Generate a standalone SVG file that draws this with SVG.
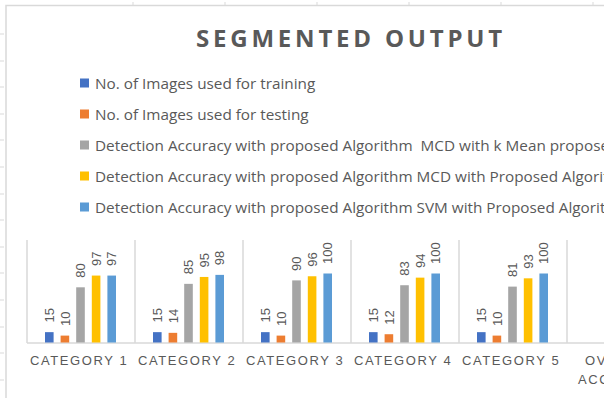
<svg xmlns="http://www.w3.org/2000/svg" width="604" height="398" viewBox="0 0 604 398">
<style>
.frame{stroke:#D9D9D9;stroke-width:1.5;fill:none}
.tick{stroke:#D9D9D9;stroke-width:1}
.grid{stroke:#D9D9D9;stroke-width:1.5}
.title{font-family:"Open Sans","Liberation Sans",sans-serif;font-weight:bold;font-size:24px;fill:#595959;letter-spacing:3.8px}
.leg{font-family:"Open Sans","Liberation Sans",sans-serif;font-size:15.3px;fill:#595959;white-space:pre}
.cat{font-family:"Liberation Sans",sans-serif;font-size:13px;fill:#595959;letter-spacing:1.6px}
.val{font-family:"Liberation Sans",sans-serif;font-size:13px;fill:#595959}
.s1{fill:#4472C4}.s2{fill:#ED7D31}.s3{fill:#A5A5A5}.s4{fill:#FFC000}.s5{fill:#5B9BD5}
</style>
<rect width="604" height="398" fill="#FFFFFF"/>
<g id="sheet-ticks">
<path class="tick" d="M0,34H4M0,61H4M0,87H4M0,114H4M0,140H4M0,167H4M0,194H4M0,220H4M0,247H4M0,273H4M0,300H4M0,327H4M0,353H4M0,380H4"/>
<path class="tick" d="M133,2V5M225,2V5M317,2V5M409,2V5M501,2V5M593,2V5"/>
</g>
<path id="chart-frame" class="frame" d="M6,398V5.5H604"/>
<text id="title" class="title" x="196" y="47">SEGMENTED OUTPUT</text>
<g id="legend">
<g id="leg1"><rect class="s1" x="80" y="78.5" width="9" height="9"/><text class="leg" x="95" y="88.5">No. of Images used for training</text></g>
<g id="leg2"><rect class="s2" x="80" y="109.5" width="9" height="9"/><text class="leg" x="95" y="119.5">No. of Images used for testing</text></g>
<g id="leg3"><rect class="s3" x="80" y="140.5" width="9" height="9"/><text class="leg" x="95" y="150.5" xml:space="preserve">Detection Accuracy with proposed Algorithm  MCD with k Mean propose</text></g>
<g id="leg4"><rect class="s4" x="80" y="171.5" width="9" height="9"/><text class="leg" x="95" y="181.5">Detection Accuracy with proposed Algorithm MCD with Proposed Algorit</text></g>
<g id="leg5"><rect class="s5" x="80" y="202.5" width="9" height="9"/><text class="leg" x="95" y="212.5">Detection Accuracy with proposed Algorithm SVM with Proposed Algorit</text></g>
</g>
<g id="axes">
<path class="grid" d="M27,343H604"/>
<path class="grid" d="M27,240V343M135,240V343M243,240V343M351,240V343M459,240V343M567,240V343"/>
</g>
<g id="cat1">
<rect class="s1" x="45" y="332.15" width="8.6" height="10.35"/>
<rect class="s2" x="60.6" y="335.6" width="8.6" height="6.9"/>
<rect class="s3" x="76.2" y="287.3" width="8.6" height="55.2"/>
<rect class="s4" x="91.8" y="275.57" width="8.6" height="66.93"/>
<rect class="s5" x="107.4" y="275.57" width="8.6" height="66.93"/>
<text class="val" transform="translate(54,322.6) rotate(-90)">15</text>
<text class="val" transform="translate(69.6,326.1) rotate(-90)">10</text>
<text class="val" transform="translate(85.2,277.8) rotate(-90)">80</text>
<text class="val" transform="translate(100.8,266) rotate(-90)">97</text>
<text class="val" transform="translate(116.4,266) rotate(-90)">97</text>
<text class="cat" x="30" y="365">CATEGORY 1</text>
</g>
<g id="cat2">
<rect class="s1" x="153" y="332.15" width="8.6" height="10.35"/>
<rect class="s2" x="168.6" y="332.84" width="8.6" height="9.66"/>
<rect class="s3" x="184.2" y="283.85" width="8.6" height="58.65"/>
<rect class="s4" x="199.8" y="276.95" width="8.6" height="65.55"/>
<rect class="s5" x="215.4" y="274.88" width="8.6" height="67.62"/>
<text class="val" transform="translate(162,322.6) rotate(-90)">15</text>
<text class="val" transform="translate(177.6,323.3) rotate(-90)">14</text>
<text class="val" transform="translate(193.2,274.3) rotate(-90)">85</text>
<text class="val" transform="translate(208.8,267.4) rotate(-90)">95</text>
<text class="val" transform="translate(224.4,265.3) rotate(-90)">98</text>
<text class="cat" x="138" y="365">CATEGORY 2</text>
</g>
<g id="cat3">
<rect class="s1" x="261" y="332.15" width="8.6" height="10.35"/>
<rect class="s2" x="276.6" y="335.6" width="8.6" height="6.9"/>
<rect class="s3" x="292.2" y="280.4" width="8.6" height="62.1"/>
<rect class="s4" x="307.8" y="276.26" width="8.6" height="66.24"/>
<rect class="s5" x="323.4" y="273.5" width="8.6" height="69"/>
<text class="val" transform="translate(270,322.6) rotate(-90)">15</text>
<text class="val" transform="translate(285.6,326.1) rotate(-90)">10</text>
<text class="val" transform="translate(301.2,270.9) rotate(-90)">90</text>
<text class="val" transform="translate(316.8,266.7) rotate(-90)">96</text>
<text class="val" transform="translate(332.4,264) rotate(-90)">100</text>
<text class="cat" x="246" y="365">CATEGORY 3</text>
</g>
<g id="cat4">
<rect class="s1" x="369" y="332.15" width="8.6" height="10.35"/>
<rect class="s2" x="384.6" y="334.22" width="8.6" height="8.28"/>
<rect class="s3" x="400.2" y="285.23" width="8.6" height="57.27"/>
<rect class="s4" x="415.8" y="277.64" width="8.6" height="64.86"/>
<rect class="s5" x="431.4" y="273.5" width="8.6" height="69"/>
<text class="val" transform="translate(378,322.6) rotate(-90)">15</text>
<text class="val" transform="translate(393.6,324.7) rotate(-90)">12</text>
<text class="val" transform="translate(409.2,275.7) rotate(-90)">83</text>
<text class="val" transform="translate(424.8,268.1) rotate(-90)">94</text>
<text class="val" transform="translate(440.4,264) rotate(-90)">100</text>
<text class="cat" x="354" y="365">CATEGORY 4</text>
</g>
<g id="cat5">
<rect class="s1" x="477" y="332.15" width="8.6" height="10.35"/>
<rect class="s2" x="492.6" y="335.6" width="8.6" height="6.9"/>
<rect class="s3" x="508.2" y="286.61" width="8.6" height="55.89"/>
<rect class="s4" x="523.8" y="278.33" width="8.6" height="64.17"/>
<rect class="s5" x="539.4" y="273.5" width="8.6" height="69"/>
<text class="val" transform="translate(486,322.6) rotate(-90)">15</text>
<text class="val" transform="translate(501.6,326.1) rotate(-90)">10</text>
<text class="val" transform="translate(517.2,277.1) rotate(-90)">81</text>
<text class="val" transform="translate(532.8,268.8) rotate(-90)">93</text>
<text class="val" transform="translate(548.4,264) rotate(-90)">100</text>
<text class="cat" x="462" y="365">CATEGORY 5</text>
</g>
<g id="cat6">
<text class="cat" x="585" y="365">OV</text>
<text class="cat" x="578" y="384">ACC</text>
</g>
</svg>
